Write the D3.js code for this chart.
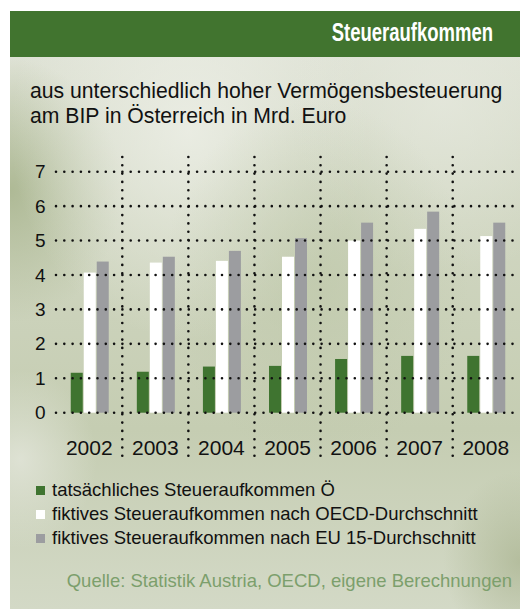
<!DOCTYPE html>
<html>
<head>
<meta charset="utf-8">
<script src="https://cdn.jsdelivr.net/npm/d3@7/dist/d3.min.js"></script>
<style>
  body { margin: 0; background: #fff; }
  svg { display: block; font-family: "Liberation Sans", Arial, sans-serif; }
</style>
</head>
<body>
<svg id="chart" width="520" height="609"></svg>
<script>
const years = ["2002", "2003", "2004", "2005", "2006", "2007", "2008"];
const actual = [1.16, 1.19, 1.34, 1.36, 1.56, 1.65, 1.65];
const oecd = [4.07, 4.36, 4.41, 4.53, 5.0, 5.34, 5.13];
const eu15 = [4.39, 4.53, 4.7, 5.07, 5.52, 5.84, 5.52];
const yTicks = [0, 1, 2, 3, 4, 5, 6, 7];
const seriesNames = [
  "tatsächliches Steueraufkommen Ö",
  "fiktives Steueraufkommen nach OECD-Durchschnitt",
  "fiktives Steueraufkommen nach EU 15-Durchschnitt"
];
const colors = ["#3f7430", "#ffffff", "#9c9da0"];
const FONT = "'Liberation Sans', Arial, sans-serif";

const svg = d3.select("#chart");

// background panel with soft olive blotches
const defs = svg.append("defs");
const base = defs.append("linearGradient").attr("id", "base")
  .attr("x1", 0).attr("y1", 0).attr("x2", 0).attr("y2", 1);
base.append("stop").attr("offset", "0").attr("stop-color", "#e2e5da");
base.append("stop").attr("offset", "0.35").attr("stop-color", "#d0d6c1");
base.append("stop").attr("offset", "0.7").attr("stop-color", "#c5cdb2");
base.append("stop").attr("offset", "1").attr("stop-color", "#d3d9c6");

const blobs = [
  { id: "b1", cx: 0.0, cy: 0.3, r: 0.22, c: "#aab690", o: 0.9 },
  { id: "b2", cx: 0.35, cy: 0.2, r: 0.35, c: "#eef0e8", o: 0.8 },
  { id: "b3", cx: 0.85, cy: 0.15, r: 0.3, c: "#e6e9de", o: 0.7 },
  { id: "b4", cx: 0.6, cy: 0.45, r: 0.3, c: "#bcc6a6", o: 0.6 },
  { id: "b5", cx: 0.02, cy: 0.75, r: 0.15, c: "#e3e6db", o: 0.8 },
  { id: "b6", cx: 1.0, cy: 0.92, r: 0.15, c: "#a9b38f", o: 0.7 }
];
blobs.forEach(b => {
  const g = defs.append("radialGradient").attr("id", b.id)
    .attr("cx", b.cx).attr("cy", b.cy).attr("r", b.r);
  g.append("stop").attr("offset", "0").attr("stop-color", b.c).attr("stop-opacity", b.o);
  g.append("stop").attr("offset", "1").attr("stop-color", b.c).attr("stop-opacity", 0);
});

const panel = { x: 10, y: 11, w: 510, h: 598 };
svg.append("rect").attr("x", panel.x).attr("y", panel.y).attr("width", panel.w).attr("height", panel.h)
  .attr("fill", "url(#base)");
blobs.forEach(b => {
  svg.append("rect").attr("x", panel.x).attr("y", panel.y).attr("width", panel.w).attr("height", panel.h)
    .attr("fill", `url(#${b.id})`);
});

// header (condensed look by horizontal scaling)
svg.append("rect").attr("x", panel.x).attr("y", panel.y).attr("width", panel.w).attr("height", 46)
  .attr("fill", "#41742f");
svg.append("g").attr("transform", "translate(493,40.5) scale(0.74,1)")
  .append("text").attr("text-anchor", "end")
  .attr("fill", "#fff").attr("font-size", 25).attr("font-weight", "bold")
  .attr("font-family", FONT)
  .text("Steueraufkommen");

// subtitle
const sub = svg.append("text").attr("x", 30).attr("font-size", 21.2).attr("fill", "#111").attr("font-family", FONT);
sub.append("tspan").attr("x", 30).attr("y", 98).text("aus unterschiedlich hoher Vermögensbesteuerung");
sub.append("tspan").attr("x", 30).attr("y", 123).text("am BIP in Österreich in Mrd. Euro");

// scales
const x = d3.scaleBand().domain(years).range([56.2, 518.8]);
const y = d3.scaleLinear().domain([0, 7]).range([412.7, 171.7]);
const barW = 12, barStep = 13;
const inner = d3.scaleBand().domain([0, 1, 2]).range([0, barStep * 3]);

const dots = sel => sel.attr("stroke", "#111").attr("stroke-width", 2.6)
  .attr("stroke-linecap", "round").attr("stroke-dasharray", "0 8.3");

// bars
const series = [actual, oecd, eu15];
series.forEach((vals, si) => {
  svg.append("g").selectAll("rect").data(vals).join("rect")
    .attr("x", (d, i) => x(years[i]) + (x.bandwidth() - barStep * 3) / 2 + 1 + inner(si))
    .attr("width", barW)
    .attr("y", d => y(d))
    .attr("height", d => y(0) - y(d))
    .attr("fill", colors[si]);
});

// horizontal dotted gridlines with tick labels
const yAxis = d3.axisLeft(y).tickValues(yTicks).tickSize(0).tickPadding(0).tickFormat(d3.format("d"));
const ya = svg.append("g").attr("transform", "translate(45.5,0)").call(yAxis);
ya.select(".domain").remove();
ya.attr("font-family", FONT).attr("font-size", 19);
ya.selectAll("text").attr("fill", "#111");
svg.append("g").selectAll("line").data(yTicks).join("line")
  .attr("x1", 56).attr("x2", 518).attr("y1", d => y(d)).attr("y2", d => y(d))
  .call(dots);

// vertical dotted separators
svg.append("g").selectAll("line").data(years.slice(1)).join("line")
  .attr("x1", d => x(d)).attr("x2", d => x(d)).attr("y1", 157).attr("y2", 464)
  .call(dots);

// year labels
const xAxis = d3.axisBottom(x).tickSize(0).tickPadding(0);
const xa = svg.append("g").attr("transform", "translate(0,455)").call(xAxis);
xa.select(".domain").remove();
xa.attr("font-family", FONT).attr("font-size", 21);
xa.selectAll("text").attr("dy", 0).attr("fill", "#111");

// legend
const legend = svg.append("g").attr("font-family", FONT).selectAll("g").data(seriesNames).join("g")
  .attr("transform", (d, i) => `translate(36,${496 + i * 24})`);
legend.append("rect").attr("x", 0).attr("y", -10).attr("width", 9).attr("height", 9)
  .attr("fill", (d, i) => colors[i]);
legend.append("text").attr("x", 16).attr("font-size", 18.5).attr("fill", "#111").text(d => d);

// source
svg.append("text").attr("x", 512).attr("y", 587).attr("text-anchor", "end")
  .attr("font-family", FONT).attr("font-size", 18.5).attr("fill", "#7c9f6c")
  .text("Quelle: Statistik Austria, OECD, eigene Berechnungen");
</script>
</body>
</html>
